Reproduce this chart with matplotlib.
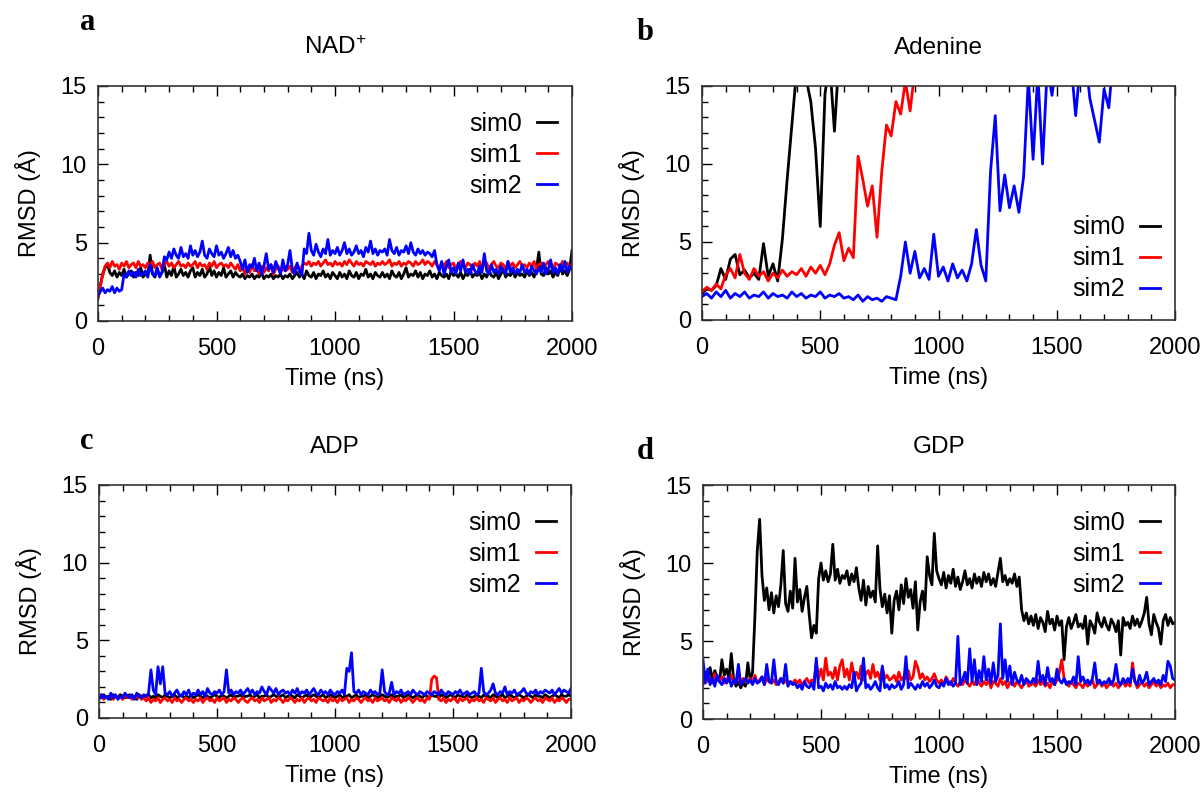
import numpy as np
import matplotlib
matplotlib.use('Agg')
import matplotlib.pyplot as plt
from matplotlib.ticker import MultipleLocator

plt.rcParams['font.family'] = ['Liberation Sans', 'DejaVu Sans']
plt.rcParams['mathtext.default'] = 'regular'

# sampling interval (ns) of the values
step_fine = 10
step_coarse = 20

# ---- panel a: NAD+ (10 ns) ----
a_sim0 = [1.5, 2.3, 3.0, 3.4, 3.6, 3.1, 2.9, 3.2, 2.8, 3.1, 2.9, 3.3, 2.8, 3.0, 3.2, 2.8, 3.1, 2.9, 3.4, 2.8,
          3.0, 2.9, 4.2, 3.0, 2.8, 3.3, 2.9, 3.1, 3.6, 2.8, 3.2, 2.9, 3.5, 2.8, 3.0, 3.3, 2.9, 3.1, 2.8, 3.2,
          3.4, 2.8, 3.1, 2.9, 3.3, 2.8, 3.0, 3.5, 2.9, 3.2, 2.8, 3.1, 2.9, 3.4, 2.8, 3.0, 3.2, 2.8, 3.1, 2.9,
          2.8, 3.0, 2.7, 2.9, 2.8, 3.0, 2.7, 2.9, 2.8, 3.1, 2.7, 2.9, 2.8, 3.0, 2.7, 2.9, 2.8, 3.0, 2.7, 2.9,
          2.8, 3.0, 2.7, 2.9, 3.1, 2.8, 3.0, 2.7, 3.2, 2.9, 2.8, 3.1, 2.7, 3.0, 2.9, 3.2, 2.8, 3.0, 2.7, 3.1,
          2.9, 2.7, 3.1, 2.8, 3.0, 2.7, 3.2, 2.9, 2.8, 3.1, 2.7, 3.0, 2.9, 3.3, 2.8, 3.0, 2.7, 3.1, 2.9, 2.8,
          3.1, 2.8, 3.0, 2.7, 3.2, 2.9, 2.8, 3.1, 2.7, 3.0, 3.4, 2.8, 3.0, 2.9, 3.2, 2.8, 3.1, 2.7, 3.0, 2.9,
          3.2, 2.8, 3.0, 2.7, 3.1, 2.9, 2.8, 3.0, 2.7, 3.2, 2.9, 3.0, 2.8, 3.1, 2.7, 3.0, 2.9, 3.3, 2.8, 3.0,
          2.9, 3.1, 2.7, 3.0, 2.8, 3.2, 2.9, 2.8, 3.1, 2.7, 3.0, 3.3, 2.8, 3.0, 2.9, 3.2, 2.8, 3.1, 2.9, 3.0,
          2.8, 3.2, 2.9, 3.1, 2.8, 3.3, 4.4, 3.0, 2.9, 3.4, 3.0, 3.2, 2.8, 3.1, 2.9, 3.5, 3.0, 3.2, 2.9, 3.3,
          4.5]
a_sim1 = [1.4, 2.2, 3.0, 3.5, 3.7, 3.4, 3.8, 3.5, 3.6, 3.3, 3.7, 3.5, 3.8, 3.4, 3.6, 3.7, 3.4, 3.8, 3.5, 3.6,
          3.4, 3.7, 3.5, 3.8, 3.4, 3.6, 3.7, 3.3, 3.6, 3.8, 3.5, 3.7, 3.4, 3.6, 3.8, 3.5, 3.6, 3.4, 3.7, 3.5,
          3.6, 3.8, 3.4, 3.7, 3.5, 3.6, 3.3, 3.7, 3.5, 3.8, 3.4, 3.6, 3.7, 3.5, 3.6, 3.4, 3.7, 3.5, 3.3, 3.6,
          3.2, 3.5, 3.0, 3.4, 3.1, 3.6, 3.2, 3.3, 3.0, 3.5, 3.1, 3.4, 3.2, 3.6, 3.0, 3.3, 3.5, 3.1, 3.4, 3.2,
          3.3, 3.5, 3.1, 3.4, 3.6, 3.2, 3.5, 3.7, 3.6, 3.8, 3.5, 3.7, 3.6, 3.8, 3.5, 3.7, 3.9, 3.6, 3.7, 3.5,
          3.8, 3.6, 3.7, 3.5, 3.8, 3.6, 3.9, 3.7, 3.5, 3.8, 3.6, 3.7, 3.5, 3.8, 3.7, 3.6, 3.8, 3.5, 3.7, 3.6,
          3.8, 3.6, 3.7, 3.9, 3.5, 3.7, 3.6, 3.8, 3.5, 3.7, 3.6, 3.8, 3.7, 3.5, 3.8, 3.6, 3.7, 3.9, 3.6, 3.8,
          3.7, 3.5, 3.8, 3.6, 3.3, 3.7, 3.5, 3.8, 3.4, 3.6, 3.7, 3.3, 3.6, 3.8, 3.5, 3.4, 3.7, 3.6, 3.3, 3.7,
          3.5, 3.8, 3.4, 3.6, 3.7, 3.3, 3.6, 3.8, 3.5, 3.4, 3.7, 3.6, 3.3, 3.8, 3.5, 3.7, 3.4, 3.6, 3.8, 3.5,
          3.6, 3.4, 3.7, 3.5, 3.8, 3.3, 3.6, 3.7, 3.4, 3.6, 3.8, 3.5, 3.3, 3.7, 3.6, 3.4, 3.8, 3.5, 3.7, 3.4,
          3.6]
a_sim2 = [1.6, 1.9, 2.1, 1.8, 2.0, 1.9, 2.2, 1.8, 2.1, 1.9, 2.0, 3.0, 2.8, 3.2, 2.9, 3.1, 2.8, 3.3, 2.9, 3.0,
          3.2, 2.8, 3.6, 3.0, 2.9, 3.4, 2.8, 3.1, 4.1, 3.9, 4.4, 4.0, 4.6, 4.2, 4.0, 4.7, 4.1, 4.3, 4.0, 4.8,
          4.2, 4.5, 4.1, 4.4, 5.1, 4.2, 4.0, 4.6, 4.3, 4.1, 4.8, 4.2, 4.4, 4.0, 4.3, 4.7, 4.1, 4.5, 4.0, 4.2,
          3.8, 3.3, 3.9, 3.1, 3.6, 3.4, 4.0, 3.2, 3.7, 3.0, 3.5, 4.3, 3.3, 3.6, 3.1, 3.8, 3.4, 3.0, 3.9, 3.2,
          3.6, 4.5, 3.3, 3.0, 3.7, 3.2, 2.9, 4.6, 4.3, 5.6, 4.5, 4.2, 4.9, 4.4, 4.1, 4.6, 4.3, 5.2, 4.2, 4.5,
          4.3, 4.7, 4.2, 4.5, 5.0, 4.3, 4.6, 4.2, 4.4, 4.8, 4.3, 4.5, 4.1, 4.7, 4.4, 5.1, 4.3, 4.6, 4.2, 4.5,
          4.4, 4.6, 4.2, 5.2, 4.5, 4.3, 4.7, 4.2, 4.5, 4.4, 4.8, 4.3, 5.0, 4.4, 4.2, 4.6, 4.3, 4.5, 4.2, 4.4,
          4.3, 4.1, 4.5, 3.6, 3.2, 3.8, 3.0, 3.5, 3.9, 3.1, 3.4, 3.0, 3.7, 3.2, 3.9, 3.1, 3.3, 3.0, 3.6, 3.2,
          3.0, 3.5, 3.1, 4.3, 3.2, 3.0, 3.6, 3.1, 3.3, 3.0, 3.5, 3.2, 3.0, 3.8, 3.1, 3.4, 3.0, 3.3, 3.1, 3.6,
          3.1, 3.3, 3.0, 3.5, 3.2, 3.0, 3.4, 3.1, 3.7, 3.0, 3.3, 3.9, 3.1, 3.4, 3.0, 3.6, 3.2, 3.8, 3.1, 3.5,
          3.3]

# ---- panel b: Adenine (20 ns) ----
b_sim0 = [1.7, 2.0, 1.9, 2.2, 3.3, 2.6, 3.9, 4.2, 2.9, 3.2,
          2.7, 3.0, 2.6, 4.9, 2.8, 3.6, 2.5, 5.2, 9.0, 12.5,
          16.0, 17.5, 15.5, 14.0, 11.0, 6.0, 14.5, 16.5, 12.1, 17.0,
          18.0, 19.0, 20.0, 21.0, 22.0, 22.0, 23.0, 24.0, 24.0, 25.0,
          25.0, 26.0, 26.0, 27.0, 27.0, 28.0, 28.0, 29.0, 29.0, 30.0,
          30.0, 30.0, 31.0, 31.0, 31.0, 32.0, 32.0, 32.0, 33.0, 33.0,
          33.0, 33.0, 34.0, 34.0, 34.0, 34.0, 35.0, 35.0, 35.0, 35.0,
          35.0, 36.0, 36.0, 36.0, 36.0, 36.0, 37.0, 37.0, 37.0, 37.0,
          37.0, 37.0, 38.0, 38.0, 38.0, 38.0, 38.0, 38.0, 39.0, 39.0,
          39.0, 39.0, 39.0, 39.0, 39.0, 40.0, 40.0, 40.0, 40.0, 40.0,
          40.0]
b_sim1 = [1.8, 2.1, 1.9, 2.3, 2.0, 2.9, 3.3, 2.7, 4.2, 3.0,
          2.6, 3.3, 2.8, 3.1, 2.5, 3.0, 2.7, 3.2, 2.8, 3.1,
          2.9, 3.3, 2.8, 3.4, 3.0, 3.5, 2.9, 3.6, 4.8, 5.6,
          3.8, 4.6, 4.0, 10.5, 9.0, 7.3, 8.6, 5.3, 9.5, 12.5,
          11.8, 14.0, 13.2, 15.3, 13.4, 16.0, 17.0, 18.0, 19.0, 19.5,
          20.0, 20.5, 21.0, 21.5, 22.0, 22.0, 22.5, 23.0, 23.0, 23.5,
          24.0, 24.0, 24.5, 25.0, 25.0, 25.5, 26.0, 26.0, 26.5, 27.0,
          27.0, 27.5, 28.0, 28.0, 28.5, 29.0, 29.0, 29.5, 30.0, 30.0,
          30.5, 31.0, 31.0, 31.5, 32.0, 32.0, 32.5, 33.0, 33.0, 33.5,
          34.0, 34.0, 34.5, 35.0, 35.0, 35.5, 36.0, 36.0, 36.5, 37.0,
          37.0]
b_sim2 = [1.5, 1.7, 1.4, 1.8, 1.5, 1.9, 1.4, 1.7, 1.5, 1.8,
          1.4, 1.6, 1.5, 1.8, 1.4, 1.7, 1.5, 1.6, 1.4, 1.8,
          1.5, 1.7, 1.4, 1.6, 1.5, 1.8, 1.4, 1.6, 1.5, 1.7,
          1.4, 1.5, 1.3, 1.6, 1.2, 1.5, 1.3, 1.4, 1.2, 1.5,
          1.4, 1.3, 2.8, 5.0, 3.0, 4.4, 2.7, 3.3, 2.6, 5.5,
          2.8, 3.4, 2.5, 3.6, 2.7, 3.2, 2.5, 3.6, 5.8, 3.5,
          2.5, 9.5, 13.1, 7.0, 9.3, 7.2, 8.6, 6.9, 9.2, 15.5,
          10.3, 15.8, 10.0, 16.2, 14.4, 17.0, 18.0, 17.5, 16.5, 13.1,
          16.5, 17.0, 14.2, 12.8, 11.4, 14.8, 13.6, 17.0, 18.0, 19.0,
          18.5, 19.0, 20.0, 19.5, 20.5, 21.0, 20.0, 21.5, 22.0, 21.0,
          22.0]

# ---- panel c: ADP (10 ns) ----
c_sim0 = [1.4, 1.3, 1.5, 1.3, 1.4, 1.2, 1.5, 1.4, 1.3, 1.5, 1.4, 1.3, 1.4, 1.5, 1.3, 1.4, 1.2, 1.5, 1.4, 1.3,
          1.4, 1.5, 1.3, 1.4, 1.3, 1.5, 1.4, 1.3, 1.5, 1.4, 1.3, 1.4, 1.5, 1.3, 1.4, 1.5, 1.3, 1.4, 1.3, 1.5,
          1.3, 1.4, 1.5, 1.4, 1.3, 1.5, 1.4, 1.3, 1.4, 1.5, 1.4, 1.3, 1.5, 1.4, 1.3, 1.4, 1.5, 1.3, 1.4, 1.4,
          1.5, 1.3, 1.4, 1.4, 1.5, 1.3, 1.4, 1.5, 1.3, 1.4, 1.4, 1.5, 1.3, 1.4, 1.5, 1.4, 1.3, 1.4, 1.5, 1.3,
          1.4, 1.5, 1.4, 1.3, 1.5, 1.4, 1.3, 1.4, 1.5, 1.3, 1.4, 1.5, 1.4, 1.3, 1.4, 1.5, 1.3, 1.4, 1.5, 1.4,
          1.3, 1.4, 1.5, 1.3, 1.4, 1.4, 1.5, 1.3, 1.4, 1.5, 1.3, 1.4, 1.4, 1.5, 1.3, 1.4, 1.5, 1.4, 1.3, 1.4,
          1.5, 1.4, 1.3, 1.4, 1.5, 1.3, 1.4, 1.4, 1.5, 1.3, 1.4, 1.5, 1.4, 1.3, 1.4, 1.5, 1.4, 1.3, 1.5, 1.4,
          1.3, 1.5, 1.4, 1.4, 1.3, 1.5, 1.4, 1.3, 1.4, 1.5, 1.4, 1.3, 1.5, 1.4, 1.4, 1.3, 1.5, 1.4, 1.3, 1.4,
          1.5, 1.4, 1.3, 1.5, 1.4, 1.4, 1.3, 1.5, 1.4, 1.3, 1.4, 1.5, 1.3, 1.4, 1.5, 1.4, 1.3, 1.4, 1.5, 1.4,
          1.3, 1.4, 1.5, 1.4, 1.3, 1.5, 1.4, 1.4, 1.3, 1.5, 1.4, 1.3, 1.4, 1.5, 1.4, 1.3, 1.5, 1.4, 1.4, 1.5,
          1.4]
c_sim1 = [1.3, 1.5, 1.2, 1.4, 1.3, 1.5, 1.2, 1.4, 1.3, 1.4, 1.2, 1.5, 1.3, 1.4, 1.2, 1.4, 1.3, 1.5, 1.2, 1.3,
          1.1, 1.3, 1.0, 1.2, 1.1, 1.3, 1.0, 1.2, 1.3, 1.1, 1.2, 1.0, 1.3, 1.1, 1.2, 1.0, 1.2, 1.3, 1.1, 1.2,
          1.0, 1.2, 1.1, 1.3, 1.0, 1.2, 1.3, 1.1, 1.2, 1.0, 1.3, 1.1, 1.2, 1.3, 1.0, 1.2, 1.1, 1.3, 1.2, 1.0,
          1.2, 1.3, 1.1, 1.0, 1.2, 1.3, 1.1, 1.2, 1.0, 1.3, 1.1, 1.2, 1.3, 1.0, 1.2, 1.1, 1.3, 1.2, 1.0, 1.2,
          1.1, 1.3, 1.2, 1.0, 1.2, 1.1, 1.3, 1.0, 1.2, 1.3, 1.1, 1.2, 1.0, 1.3, 1.2, 1.1, 1.2, 1.0, 1.3, 1.1,
          1.2, 1.0, 1.3, 1.1, 1.2, 1.3, 1.0, 1.2, 1.1, 1.3, 1.2, 1.0, 1.2, 1.3, 1.1, 1.2, 1.0, 1.3, 1.1, 1.2,
          1.3, 1.1, 1.2, 1.0, 1.3, 1.2, 1.1, 1.3, 1.0, 1.2, 1.1, 1.3, 1.2, 1.0, 1.2, 1.3, 1.1, 1.2, 1.0, 1.3,
          1.2, 2.5, 2.7, 2.6, 1.2, 1.1, 1.3, 1.0, 1.2, 1.1, 1.3, 1.2, 1.0, 1.3, 1.1, 1.2, 1.3, 1.0, 1.2, 1.1,
          1.3, 1.1, 1.2, 1.0, 1.3, 1.2, 1.1, 1.3, 1.0, 1.2, 1.3, 1.1, 1.2, 1.0, 1.3, 1.1, 1.2, 1.3, 1.0, 1.2,
          1.1, 1.3, 1.2, 1.0, 1.2, 1.3, 1.1, 1.2, 1.0, 1.3, 1.2, 1.1, 1.3, 1.0, 1.2, 1.1, 1.3, 1.2, 1.0, 1.2,
          1.2]
c_sim2 = [1.2, 1.5, 1.3, 1.4, 1.2, 1.6, 1.3, 1.5, 1.2, 1.4, 1.3, 1.6, 1.4, 1.3, 1.5, 1.2, 1.6, 1.4, 1.3, 1.5,
          1.4, 1.6, 3.1, 1.8, 1.5, 3.3, 2.2, 3.3, 1.6, 1.5, 1.7, 1.4, 1.6, 1.8, 1.5, 1.4, 1.7, 1.5, 1.8, 1.4,
          1.6, 1.5, 1.8, 1.5, 1.7, 1.4, 1.9, 1.6, 1.5, 1.7, 1.6, 1.8, 1.5, 1.7, 3.1, 1.6, 1.8, 1.5, 1.7, 1.6,
          1.8, 1.5, 1.7, 1.9, 1.6, 1.8, 1.5, 1.7, 1.6, 2.0, 1.7, 1.5, 2.0, 1.8, 1.6, 1.9, 1.5, 1.7, 1.8, 1.6,
          1.7, 1.5, 1.8, 1.6, 1.9, 1.5, 1.7, 1.6, 1.8, 1.5, 1.7, 1.9, 1.6, 1.5, 1.8, 1.6, 1.7, 1.5, 1.8, 1.6,
          1.5, 1.7, 1.6, 1.8, 1.5, 3.2, 3.0, 4.2, 1.7, 1.6, 1.8, 1.5, 1.7, 1.6, 1.5, 1.8, 1.6, 1.7, 1.5, 1.6,
          3.1, 1.7, 1.5, 1.6, 2.3, 1.5, 1.7, 1.6, 1.8, 1.5, 1.6, 1.7, 1.5, 1.8, 1.6, 1.5, 1.7, 1.6, 1.5, 1.7,
          1.6, 1.5, 1.7, 1.6, 1.5, 1.8, 1.6, 1.5, 1.7, 1.6, 1.5, 1.7, 1.6, 1.8, 1.5, 1.6, 1.7, 1.5, 1.6, 1.7,
          1.5, 1.6, 3.2, 1.7, 1.5, 1.6, 1.8, 2.2, 1.6, 1.5, 1.7, 1.6, 2.0, 1.5, 1.7, 1.6, 1.8, 1.5, 1.6, 1.7,
          1.9, 1.6, 1.5, 1.7, 1.6, 1.8, 1.5, 1.7, 1.6, 1.8, 1.7, 1.6, 1.8, 1.5, 1.7, 1.9, 1.6, 1.8, 1.7, 1.6,
          1.9]

# ---- panel d: GDP (10 ns) ----
d_sim0 = [2.4, 3.0, 2.6, 3.3, 2.5, 3.1, 2.7, 2.4, 3.8, 2.8, 3.2, 2.6, 4.2, 2.5, 2.1, 2.4, 2.0, 2.3, 2.1, 3.6,
          2.5, 3.0, 6.6, 10.8, 12.8, 9.2, 7.6, 8.4, 7.0, 8.1, 6.8, 7.9, 7.2, 8.6, 10.8, 7.4, 6.9, 8.2, 7.1, 10.3,
          7.5, 8.3, 6.9, 7.8, 8.5, 6.7, 5.2, 6.0, 5.5, 9.0, 10.0, 8.9, 9.5, 8.8, 9.3, 11.2, 8.9, 9.6, 8.7, 9.2,
          9.0, 9.5, 8.6, 9.3, 8.8, 9.7, 8.4, 7.6, 8.9, 7.3, 8.5, 7.8, 8.2, 7.5, 11.1, 8.3, 7.2, 8.0, 6.8, 7.9,
          5.5, 7.6, 8.2, 7.0, 8.6, 7.4, 9.0, 7.8, 8.3, 7.1, 8.8, 5.7, 7.5, 8.2, 7.0, 10.4, 9.2, 8.6, 11.9, 9.5,
          9.0, 8.6, 9.4, 8.4, 9.2, 8.7, 9.6, 8.5, 9.1, 8.3, 8.8, 9.5, 8.6, 9.0, 8.4, 9.3, 8.7, 9.1, 8.5, 9.4,
          8.8, 9.3, 8.6, 9.0, 8.5, 9.4, 10.3, 8.8, 9.2, 8.6, 9.0, 8.7, 9.3, 8.5, 9.1, 7.0, 6.3, 6.8, 6.1, 6.6,
          6.0, 6.7, 5.8, 6.5, 6.2, 5.6, 6.9, 6.1, 6.4, 5.7, 6.6, 6.0, 6.3, 3.8, 5.9, 6.5, 5.8, 6.2, 6.7, 5.9,
          6.1, 5.8, 6.6, 4.8, 6.3, 6.0, 5.5, 6.8, 6.2, 5.9, 6.5, 6.0, 5.7, 6.4, 6.1, 5.6, 6.3, 4.1, 6.5, 6.0,
          6.2, 5.8, 6.6, 6.0, 6.4, 5.9, 6.3, 6.8, 7.8, 6.1, 5.4, 6.7, 6.2, 5.8, 4.8, 6.3, 6.7, 6.0, 6.5, 6.1,
          6.2]
d_sim1 = [2.2, 2.8, 2.4, 2.6, 2.3, 2.9, 2.5, 2.4, 2.7, 2.3, 2.6, 2.4, 2.8, 2.3, 2.5, 2.7, 2.2, 2.6, 2.4, 2.3,
          2.6, 2.4, 2.8, 2.3, 2.5, 2.7, 2.2, 2.6, 2.4, 2.3, 2.5, 2.2, 2.4, 2.6, 2.3, 2.5, 2.2, 2.4, 2.3, 2.5,
          2.3, 2.5, 2.2, 2.4, 2.6, 2.3, 2.5, 2.4, 3.6, 2.6, 3.2, 2.5, 3.9, 2.8, 3.0, 2.6, 3.3, 2.5, 3.4, 3.8,
          2.7, 3.2, 2.5, 3.6, 2.8, 3.0, 2.6, 3.4, 2.5, 2.9, 3.1, 2.6, 3.5, 2.7, 3.0, 2.5, 3.3, 2.6, 2.8, 2.5,
          2.6, 2.8, 2.4, 3.0, 2.5, 2.7, 2.6, 3.1, 2.5, 2.7, 3.7, 3.3, 2.6, 2.9, 2.5, 2.7, 2.4, 2.6, 2.9, 2.5,
          2.3, 2.5, 2.2, 2.7, 2.4, 2.2, 2.6, 2.3, 2.1, 2.4, 2.2, 2.5, 2.3, 2.1, 2.4, 2.2, 2.6, 2.3, 2.1, 2.4,
          2.2, 2.5, 2.0, 2.4, 2.3, 2.1, 2.6, 2.2, 2.4, 2.0, 2.3, 2.5, 2.1, 2.4, 2.2, 2.0, 2.3, 2.5, 2.1, 2.2,
          2.3, 2.1, 2.5, 2.2, 2.4, 2.1, 2.3, 2.0, 2.4, 2.2, 2.5, 3.0, 3.8, 2.6, 2.3, 2.1, 2.4, 2.2, 2.0, 2.3,
          2.2, 2.0, 2.4, 2.1, 2.3, 2.5, 2.0, 2.2, 2.4, 2.1, 2.3, 2.0, 2.2, 2.4, 2.1, 2.3, 2.0, 2.2, 2.4, 2.1,
          2.3, 2.1, 3.6, 2.4, 2.0, 2.2, 2.4, 2.1, 2.3, 2.0, 2.2, 2.4, 2.1, 2.3, 2.0, 2.2, 2.1, 2.3, 2.0, 2.2,
          2.2]
d_sim2 = [3.8, 2.3, 3.2, 2.2, 2.6, 2.1, 2.8, 2.4, 2.2, 2.6, 2.3, 2.7, 2.1, 2.5, 2.3, 3.5, 2.2, 2.4, 2.6, 2.3,
          2.5, 2.2, 2.6, 2.3, 2.4, 2.7, 2.2, 3.5, 2.4, 2.3, 3.8, 2.4, 2.2, 2.6, 2.3, 3.5, 2.1, 2.4, 2.2, 2.3,
          2.0, 2.2, 1.9, 2.4, 2.1, 2.0, 2.3, 1.9, 3.9, 2.0, 2.1, 1.8, 2.3, 2.0, 2.2, 1.9, 2.4, 2.0, 2.1, 1.9,
          2.1, 1.9, 2.2, 2.0, 3.0, 1.8, 2.1, 2.3, 3.9, 2.0, 2.2, 1.9, 2.1, 2.4, 2.0, 1.8, 3.4, 2.0, 2.2, 1.9,
          2.2, 2.0, 2.1, 2.4, 1.9, 2.2, 4.0, 2.0, 2.3, 2.1, 1.9, 2.2, 2.0, 2.4, 2.1, 2.3, 2.0, 2.2, 2.5, 2.1,
          2.0, 2.3, 2.1, 2.6, 2.2, 2.4, 2.1, 2.3, 5.3, 2.2, 2.5, 3.0, 2.3, 4.5, 2.4, 3.8, 2.2, 3.1, 2.4, 4.0,
          2.5, 3.2, 2.3, 3.6, 2.4, 2.8, 6.1, 2.6, 3.8, 2.4, 3.4, 2.2, 3.0, 2.5, 2.3, 2.8, 2.2, 2.6, 2.4, 2.3,
          2.6, 2.3, 3.7, 2.4, 2.8, 2.2, 3.3, 2.4, 2.6, 2.2, 3.2, 2.5, 2.3, 2.6, 2.2, 2.4, 2.3, 2.7, 2.2, 4.0,
          2.4, 2.7, 2.3, 2.5, 2.2, 2.6, 3.6, 2.3, 2.5, 2.2, 2.4, 2.3, 2.6, 2.2, 2.5, 3.5, 2.4, 2.2, 2.6, 2.3,
          2.6, 2.3, 3.2, 2.4, 2.2, 2.8, 2.3, 2.5, 3.0, 2.2, 2.4, 2.6, 2.3, 2.5, 2.2, 2.8, 2.4, 3.7, 3.4, 2.6,
          2.5]

panels = [
    ('a', 'NAD$^{+}$', [a_sim0, a_sim1, a_sim2], step_fine, 'upper right'),
    ('b', 'Adenine', [b_sim0, b_sim1, b_sim2], step_coarse, 'lower right'),
    ('c', 'ADP', [c_sim0, c_sim1, c_sim2], step_fine, 'upper right'),
    ('d', 'GDP', [d_sim0, d_sim1, d_sim2], step_fine, 'upper right'),
]
sim_labels = ['sim0', 'sim1', 'sim2']
colors = ['black', 'red', 'blue']

W, H = 1204, 796
# axes boxes in pixels: left, top, right, bottom
boxes = [(98, 86, 572, 321), (702, 86, 1175, 320),
         (99, 485, 571, 718), (703, 485, 1175, 719)]
letter_pos = [(80, 23), (637, 32), (80, 441), (637, 451)]

fig = plt.figure(figsize=(W / 100, H / 100), dpi=100)

for (letter, title, series, step, loc), (l, t, r, b), (lx, ly) in zip(panels, boxes, letter_pos):
    ax = fig.add_axes([l / W, 1 - b / H, (r - l) / W, (b - t) / H])
    for vals, lab, c in zip(series, sim_labels, colors):
        tt = np.arange(len(vals)) * step
        ax.plot(tt, vals, color=c, lw=2.0, label=lab)
    ax.set_xlim(0, 2000)
    ax.set_ylim(0, 15)
    ax.xaxis.set_major_locator(MultipleLocator(500))
    ax.xaxis.set_minor_locator(MultipleLocator(100))
    ax.yaxis.set_major_locator(MultipleLocator(5))
    ax.yaxis.set_minor_locator(MultipleLocator(1))
    ax.tick_params(which='both', direction='in', top=True, right=False,
                   labelsize=17, width=1.0)
    ax.tick_params(axis='x', which='major', pad=12)
    ax.tick_params(axis='y', which='major', pad=8)
    ax.tick_params(which='major', length=7)
    ax.tick_params(which='minor', length=4)
    for sp in ax.spines.values():
        sp.set_linewidth(1.2)
        sp.set_color('#333333')
    ax.set_xlabel('Time (ns)', fontsize=17, labelpad=6)
    ax.set_ylabel('RMSD (Å)', fontsize=17, labelpad=14)
    if loc == 'upper right':
        anchor = (0.968, 0.89)
    else:
        anchor = (0.968, 0.08)
    leg = ax.legend(loc=loc, bbox_to_anchor=anchor, frameon=False, markerfirst=False,
                    fontsize=18, handlelength=0.8, handletextpad=0.6,
                    labelspacing=0.28, borderpad=0, borderaxespad=0)
    for h in leg.get_lines():
        h.set_linewidth(2.0)
    fig.text((l + r) / 2 / W, 1 - (t - 38) / H, title, ha='center', va='center',
             fontsize=17.5)
    fig.text(lx / W, 1 - ly / H, letter, ha='left', va='center', fontsize=22,
             fontweight='bold', family='Liberation Serif')

fig.savefig('out.png', dpi=100)
